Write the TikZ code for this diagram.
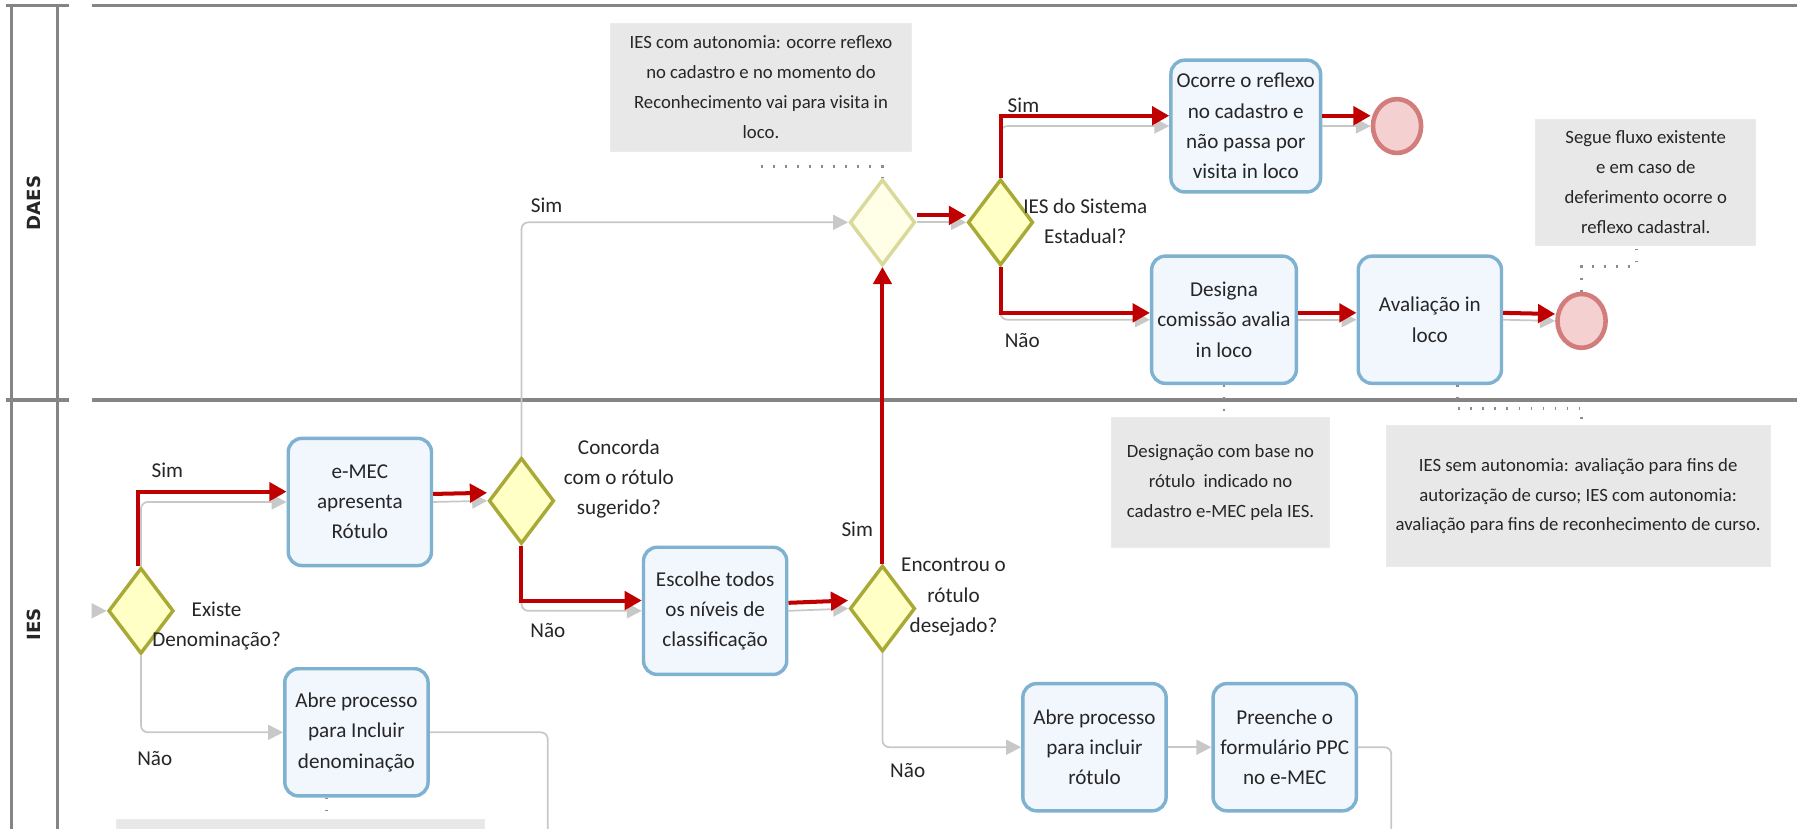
\documentclass[tikz,border=0pt]{standalone}
\usepackage{fontspec}
\setmainfont{Carlito}
\newfontfamily\lanefont{DejaVu Sans}
\usepackage{tikz}
\usetikzlibrary{positioning,arrows.meta,shapes.geometric}

\definecolor{taskline}{HTML}{7FB1D0}
\definecolor{taskfill}{HTML}{F2F6FD}
\definecolor{gateline}{HTML}{A9A935}
\definecolor{gatefill}{HTML}{FFFFC6}
\definecolor{paleline}{HTML}{D9D99A}
\definecolor{palefill}{HTML}{FFFFE8}
\definecolor{endline}{HTML}{D27C7C}
\definecolor{endfill}{HTML}{F5D0D0}
\definecolor{notefill}{HTML}{E8E8E8}
\definecolor{flowgray}{HTML}{C8C8C8}
\definecolor{hotred}{HTML}{C00000}
\definecolor{laneline}{HTML}{858585}
\definecolor{ink}{HTML}{262626}

\begin{document}
\begin{tikzpicture}[x=0.2mm, y=-0.2mm, every node/.style={font=\fontsize{10.5}{15}\selectfont, text=ink}]
      \tikzstyle{taskbox}=[draw=taskline, fill=taskfill, line width=0.6mm, rounded corners=2.4mm, minimum width=25mm, minimum height=22.2mm, align=center, inner sep=1mm]
      \tikzstyle{gate}=[diamond, draw=gateline, fill=gatefill, line width=0.6mm, minimum width=11.4mm, minimum height=15mm, inner sep=0pt]
      \tikzstyle{paleGate}=[gate, draw=paleline, fill=palefill]
      \tikzstyle{endev}=[ellipse, draw=endline, fill=endfill, line width=0.8mm, minimum width=8.4mm, minimum height=9.4mm, inner sep=0pt]
      \tikzstyle{note}=[fill=notefill, draw=black!8, align=center, font=\fontsize{9.3}{14.8}\selectfont]
      \tikzstyle{flow}=[draw=flowgray, line width=0.3mm, rounded corners=1.2mm, -{Triangle[length=2.6mm,width=2.6mm]}]
      \tikzstyle{hot}=[draw=hotred, line width=0.7mm, -{Triangle[length=3mm,width=3.2mm]}]
      \tikzstyle{assoc}=[draw=black!45, line width=0.5mm, dash pattern=on 0.3mm off 1.8mm]
      \tikzstyle{lane}=[draw=laneline, line width=0.55mm]
      \tikzstyle{lbl}=[align=center, inner sep=0pt]

      \useasboundingbox (0,0) rectangle (1568,723);
      \clip (0,0) rectangle (1568,723);
      \fill[white] (0,0) rectangle (1568,723);

      % lanes
      \foreach \y in {5,349} {
        \draw[lane] (5,\y) -- (60,\y);
        \draw[lane] (80,\y) -- (1568,\y);
      }
      \draw[lane] (10,5) -- (10,723);
      \draw[lane] (50,5) -- (50,723);
      \node[rotate=90, font=\lanefont\fontsize{9}{10}\selectfont\bfseries] (daes) at (30,177) {DAES};
      \node[rotate=90, font=\lanefont\fontsize{9}{10}\selectfont\bfseries] (ies) at (30,545) {IES};

      % IES lane
      \node[gate] (existe) at (123,533) {};
      \node[taskbox] (rotulo) at (314,438) {e-MEC\\apresenta\\Rótulo};
      \node[taskbox] (incden) at (311,639) {Abre processo\\para Incluir\\denominação};
      \node[gate] (concorda) at (455,437) {};
      \node[taskbox] (niveis) at (624,533) {Escolhe todos\\os níveis de\\classificação};
      \node[gate] (encontrou) at (770,531) {};
      \node[taskbox] (incrot) at (955,652) {Abre processo\\para incluir\\rótulo};
      \node[taskbox, right=7.6mm of incrot] (ppc) {Preenche o\\formulário PPC\\no e-MEC};

      % DAES lane
      \node[paleGate] (juncao) at (770,194) {};
      \node[gate] (estadual) at (873,194) {};
      \node[taskbox, minimum width=26mm, minimum height=23mm] (reflexo) at (1087,110) {Ocorre o reflexo\\no cadastro e\\não passa por\\visita in loco};
      \node[endev] (fim1) at (1219,110) {};
      \node[taskbox] (comissao) at (1068,279) {Designa\\comissão avalia\\in loco};
      \node[taskbox, right=10.2mm of comissao] (avaliacao) {Avaliação in\\loco};
      \node[endev] (fim2) at (1380,280) {};

      % annotations
      \node[note, minimum width=52.6mm, minimum height=22.4mm] (autonomia) at (664,76) {IES com autonomia: ocorre reflexo\\no cadastro e no momento do\\Reconhecimento vai para visita in\\loco.};
      \node[note, minimum width=38.4mm, minimum height=22mm] (fluxo) at (1436,159) {Segue fluxo existente\\e em caso de\\deferimento ocorre o\\reflexo cadastral.};
      \node[note, minimum width=38mm, minimum height=22.6mm] (designacao) at (1065,421) {Designação com base no\\rótulo\ \ indicado no\\cadastro e-MEC pela IES.};
      \node[note, minimum width=67mm, minimum height=24.6mm] (semauto) at (1377,433) {IES sem autonomia: avaliação para fins de\\autorização de curso; IES com autonomia:\\avaliação para fins de reconhecimento de curso.};
      \node[note, minimum width=64.2mm, minimum height=12mm] (rodape) at (262,745) {};

      % labels
      \node[lbl] (simA) at (146,410) {Sim};
      \node[lbl] (naoA) at (135,662) {Não};
      \node[lbl] (qExiste) at (189,546) {Existe\\Denominação?};
      \node[lbl] (qConcorda) at (540,418) {Concorda\\com o rótulo\\sugerido?};
      \node[lbl] (simB) at (477,179) {Sim};
      \node[lbl] (naoB) at (478,550) {Não};
      \node[lbl] (simC) at (748,462) {Sim};
      \node[lbl] (qEncontrou) at (832,521) {Encontrou o\\rótulo\\desejado?};
      \node[lbl] (naoC) at (792,672) {Não};
      \node[lbl] (simD) at (893,92) {Sim};
      \node[lbl] (naoD) at (892,297) {Não};
      \node[lbl] (qEstadual) at (947,193) {IES do Sistema\\Estadual?};

      % sequence flows
      \coordinate (entrada) at (80,533);
      \coordinate (saida1) at (478,740);
      \coordinate (saida2) at (1214,740);
      \draw[flow] (entrada) -- (existe.west);
      \draw[flow] (existe.north) |- (rotulo.west);
      \draw[flow] (existe.south) |- (incden.west);
      \draw[flow, -] (incden.east) -| (saida1);
      \draw[flow] (rotulo.east) -- (concorda.west);
      \draw[flow] (concorda.north) |- (juncao.west);
      \draw[flow] (concorda.south) |- (niveis.west);
      \draw[flow] (niveis.east) -- (encontrou.west);
      \draw[flow] (encontrou.north) -- (juncao.south);
      \draw[flow] (encontrou.south) |- (incrot.west);
      \draw[flow] (incrot.east) -- (ppc.west);
      \draw[flow, -] (ppc.east) -| (saida2);
      \draw[flow] (juncao.east) -- (estadual.west);
      \draw[flow] (estadual.north) |- (reflexo.west);
      \draw[flow] (estadual.south) |- (comissao.west);
      \draw[flow] (reflexo.east) -- (fim1.west);
      \draw[flow] (comissao.east) -- (avaliacao.west);
      \draw[flow] (avaliacao.east) -- (fim2.west);

      % highlighted path
      \draw[hot] ([xshift=-0.6mm]existe.north) |- ([yshift=1.8mm]rotulo.west);
      \draw[hot] ([yshift=1.4mm]rotulo.east) -- ([yshift=1.4mm]concorda.west);
      \draw[hot] (concorda.south) |- ([yshift=1.8mm]niveis.west);
      \draw[hot] ([yshift=1.4mm]niveis.east) -- ([yshift=1.4mm]encontrou.west);
      \draw[hot] (encontrou.north) -- (juncao.south);
      \draw[hot] ([yshift=1.2mm]juncao.east) -- ([yshift=1.2mm]estadual.west);
      \draw[hot] (estadual.north) |- ([yshift=1.8mm]reflexo.west);
      \draw[hot] (estadual.south) |- ([yshift=1.2mm]comissao.west);
      \draw[hot] ([yshift=1.8mm]reflexo.east) -- ([yshift=1.8mm]fim1.west);
      \draw[hot] ([yshift=1.2mm]comissao.east) -- ([yshift=1.2mm]avaliacao.west);
      \draw[hot] ([yshift=1.2mm]avaliacao.east) -- ([yshift=1.2mm]fim2.west);

      % associations
      \draw[assoc] ([yshift=-2.6mm]autonomia.south) -| (juncao.north);
      \draw[assoc] (fim2.north) |- ([xshift=-1.6mm,yshift=-3.6mm]fluxo.south) -- ([xshift=-1.6mm]fluxo.south);
      \draw[assoc] (comissao.south) -- (comissao.south |- designacao.north);
      \draw[assoc] ([xshift=4.8mm]avaliacao.south) |- ([xshift=0.6mm,yshift=3mm]semauto.north) -- ([xshift=0.6mm]semauto.north);
      \draw[assoc] ([xshift=-5.2mm]incden.south) -- ([xshift=-5.2mm]incden.south |- rodape.north);
    \end{tikzpicture}
\end{document}
